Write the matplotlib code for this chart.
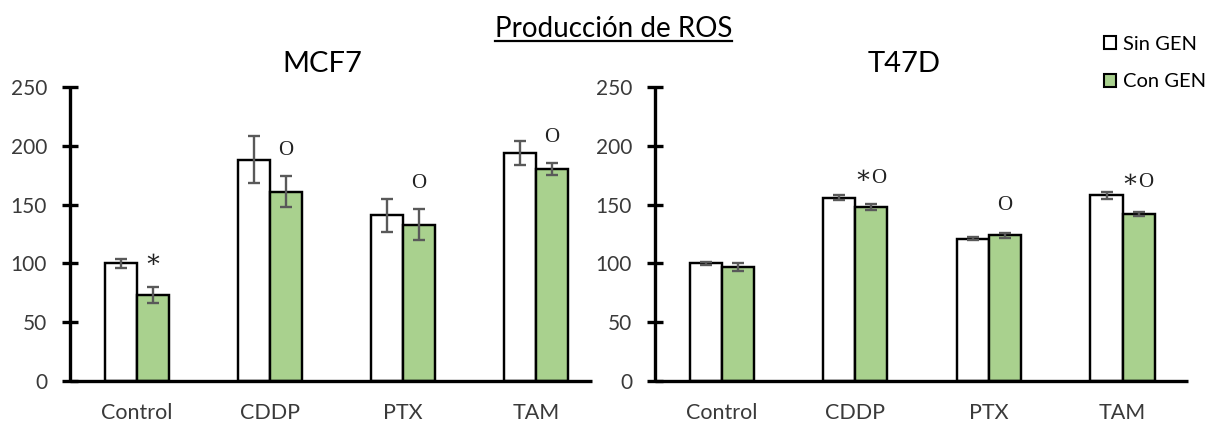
import matplotlib
matplotlib.use("Agg")
import matplotlib.pyplot as plt
from matplotlib.patches import Patch
from matplotlib.lines import Line2D
import numpy as np

plt.rcParams['font.family'] = ['Lato', 'DejaVu Sans']

categories = ["Control", "CDDP", "PTX", "TAM"]

mcf7_sin = [100, 188, 141, 194]
mcf7_sin_err = [4, 20, 14, 10]
mcf7_con = [73, 161, 133, 180]
mcf7_con_err = [7, 13, 13, 5]
mcf7_marks = ["*", "o", "o", "o"]
mcf7_mark_y = [97, 192, 164, 203]

t47d_sin = [100, 156, 121, 158]
t47d_sin_err = [1.5, 2.5, 1.5, 3]
t47d_con = [97, 148, 124, 142]
t47d_con_err = [3.5, 2.5, 2, 1.5]
t47d_marks = ["", "*o", "o", "*o"]
t47d_mark_y = [0, 168, 145, 165]

GREEN = "#A9D18E"
ERR = "#595959"
TICK = "#3a3a3a"
SERIF = ["Liberation Serif", "DejaVu Serif"]

W, H = 1213, 421
fig = plt.figure(figsize=(W / 100, H / 100), dpi=100)
ax1 = fig.add_axes([70 / W, 40 / H, 522 / W, 294 / H])
ax2 = fig.add_axes([655 / W, 40 / H, 533 / W, 294 / H])


def put_mark(ax, xc, y, mark):
    star = "*" in mark
    circ = "o" in mark
    kw = dict(va="baseline", color="#222222")
    if star:
        ax.text(xc, y, "\u2217", ha="right" if circ else "center",
                fontsize=18, family=["DejaVu Serif"], **kw)
    if circ:
        ax.text(xc, y, "O", ha="left" if star else "center",
                fontsize=15, family=SERIF, **kw)


def draw_panel(ax, sin, sin_err, con, con_err, marks, mark_y, xmax):
    x = np.arange(len(categories))
    w = 0.24
    ekw = dict(ecolor=ERR, elinewidth=1.7, capsize=4, capthick=1.7, zorder=3)
    ax.bar(x - w / 2, sin, w, yerr=sin_err, color="white", edgecolor="black",
           linewidth=1.75, error_kw=ekw, zorder=2)
    ax.bar(x + w / 2, con, w, yerr=con_err, color=GREEN, edgecolor="black",
           linewidth=1.75, error_kw=ekw, zorder=2)
    for xi, m, y in zip(x, marks, mark_y):
        if m:
            put_mark(ax, xi + w / 2, y, m)
    ax.set_xlim(-0.5, xmax)
    ax.set_ylim(0, 250)
    ax.set_yticks(range(0, 251, 50))
    ax.set_xticks(x, categories)
    for s in ("top", "right"):
        ax.spines[s].set_visible(False)
    for s in ("left", "bottom"):
        ax.spines[s].set_linewidth(2.4)
        ax.spines[s].set_capstyle("butt")
    ax.tick_params(axis="y", direction="inout", length=11, width=2.4,
                   labelsize=15, pad=11, labelcolor=TICK)
    ax.tick_params(axis="x", length=0, pad=15.5, labelsize=15.5, labelcolor=TICK)


draw_panel(ax1, mcf7_sin, mcf7_sin_err, mcf7_con, mcf7_con_err,
           mcf7_marks, mcf7_mark_y, 3.42)
draw_panel(ax2, t47d_sin, t47d_sin_err, t47d_con, t47d_con_err,
           t47d_marks, t47d_mark_y, 3.49)

fig.text(322 / W, 1 - 71.7 / H, "MCF7", ha="center", va="baseline", fontsize=21)
fig.text(904 / W, 1 - 71.7 / H, "T47D", ha="center", va="baseline", fontsize=21)

title = fig.text(613.5 / W, 1 - 37.3 / H, "Producción de ROS", ha="center",
                 va="baseline", fontsize=20)
fig.canvas.draw()
bb = title.get_window_extent().transformed(fig.transFigure.inverted())
fig.add_artist(Line2D([bb.x0, bb.x1], [1 - 41 / H] * 2, color="black",
                      linewidth=1.6, transform=fig.transFigure))

handles = [Patch(facecolor="white", edgecolor="black", linewidth=1.5),
           Patch(facecolor=GREEN, edgecolor="black", linewidth=1.5)]
leg = fig.legend(handles, ["Sin GEN", "Con GEN"], loc="upper left",
                 bbox_to_anchor=(1104 / W, 1 - 36 / H), frameon=False,
                 fontsize=14.5, handlelength=0.62, handleheight=0.62,
                 handletextpad=0.3, labelspacing=1.0, borderpad=0,
                 borderaxespad=0)

fig.savefig("out.png", dpi=100)
